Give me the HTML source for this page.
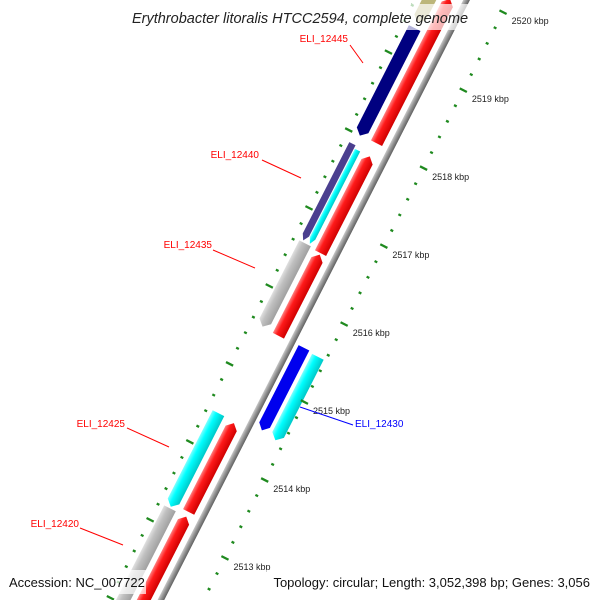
<!DOCTYPE html>
<html><head><meta charset="utf-8"><style>
html,body{margin:0;padding:0;background:#fff;overflow:hidden}
svg{display:block}
</style></head><body>
<svg id="map" width="600" height="600" viewBox="0 0 600 600" xmlns="http://www.w3.org/2000/svg">
<defs>
<linearGradient id="gRed" x1="0" y1="0" x2="0" y2="1"><stop offset="0" stop-color="#ff8080"/><stop offset="0.35" stop-color="#ff1a1a"/><stop offset="1" stop-color="#d00000"/></linearGradient>
<linearGradient id="gCyan" x1="0" y1="0" x2="0" y2="1"><stop offset="0" stop-color="#80ffff"/><stop offset="0.35" stop-color="#00ffff"/><stop offset="1" stop-color="#00c8c8"/></linearGradient>
<linearGradient id="gGray" x1="0" y1="0" x2="0" y2="1"><stop offset="0" stop-color="#e0e0e0"/><stop offset="0.35" stop-color="#c0c0c0"/><stop offset="1" stop-color="#a0a0a0"/></linearGradient>
<linearGradient id="gBack" x1="0" y1="0" x2="0" y2="1"><stop offset="0" stop-color="#c8c8c8"/><stop offset="0.5" stop-color="#909090"/><stop offset="1" stop-color="#606060"/></linearGradient>
</defs>
<g id="track" transform="translate(191.1,540.7) rotate(-63.0)"></g>
<g id="labels"></g>
<g id="annot"></g>
<rect x="114" y="4" width="372" height="26" fill="#fff" fill-opacity="0.7"/>
<text x="300" y="23" text-anchor="middle" font-family="Liberation Sans, sans-serif" font-size="14.5" font-style="italic" fill="#222">Erythrobacter litoralis HTCC2594, complete genome</text>
<rect x="4" y="570" width="142" height="24" fill="#fff" fill-opacity="0.7"/>
<text x="9" y="587" font-family="Liberation Sans, sans-serif" font-size="13" fill="#111">Accession: NC_007722</text>
<rect x="255" y="570" width="341" height="24" fill="#fff" fill-opacity="0.7"/>
<text x="590" y="587" text-anchor="end" font-family="Liberation Sans, sans-serif" font-size="13" fill="#111">Topology: circular; Length: 3,052,398 bp; Genes: 3,056</text>
</svg>
<script>
// data (kbp)
const geneStarts = [2511.0, 2513.28, 2515.54, 2516.6, 2518.01, 2520.05, 2511.0, 2513.24, 2515.55, 2516.64, 2516.64, 2518.0, 2519.45, 2514.49, 2514.46, 2520.1];
const geneEnds   = [2513.22, 2514.42, 2516.58, 2517.84, 2519.86, 2521.5, 2513.22, 2514.44, 2516.62, 2517.88, 2517.84, 2519.38, 2521.5, 2515.55, 2515.53, 2521.5];
const geneStrand = [1,1,1,1,1,1,-1,-1,-1,-1,-1,-1,-1,-1,-1,-1];
const geneLane   = ['fwd','fwd','fwd','fwd','fwd','fwd','rev','rev','rev','revA','revB','rev','rev','outA','outB','outA'];
const geneColor  = ['url(#gRed)','url(#gRed)','url(#gRed)','url(#gRed)','url(#gRed)','url(#gRed)','url(#gGray)','url(#gCyan)','url(#gGray)','#4b3f8f','url(#gCyan)','#000080','#bcb67a','#0000ee','url(#gCyan)','#0000ee'];
const tickStart = 2511.6, tickEnd = 2521.4, tickStep = 0.2;
const tickLabels = ['2512 kbp','2513 kbp','2514 kbp','2515 kbp','2516 kbp','2517 kbp','2518 kbp','2519 kbp','2520 kbp','2521 kbp'];
const tickLabelKbp = [2512,2513,2514,2515,2516,2517,2518,2519,2520,2521];
const annNames = ['ELI_12445','ELI_12440','ELI_12435','ELI_12425','ELI_12420','ELI_12430'];
const annTextX = [348, 259, 212, 125, 79, 355];
const annTextY = [42, 158, 248, 427, 527, 427];
const annLine  = [[350,45,363,63],[262,160,301,178],[213,250,255,268],[127,428,169,447],[80,528,123,545],[300,407,353,425]];
const annColor = ['#ff0000','#ff0000','#ff0000','#ff0000','#ff0000','#0000ff'];

const NS='http://www.w3.org/2000/svg';
const K=87.5, O=2513, ANG=63.0;
const ux=k=>(k-O)*K;
const lanes={fwd:[-21.5,-9],rev:[-40,-27],revA:[-40,-33],revB:[-32,-26],outA:[7,19],outB:[23,36]};
const cs=Math.cos(ANG*Math.PI/180), sn=Math.sin(ANG*Math.PI/180);
function scr(lx,ly){return [191.1+lx*cs+ly*sn, 540.7-lx*sn+ly*cs];}
const track=document.getElementById('track');
function mk(tag,attrs,parent){const e=document.createElementNS(NS,tag);for(const k in attrs)e.setAttribute(k,attrs[k]);parent.appendChild(e);return e;}

const bb=mk('rect',{x:-800,y:-3,width:1800,height:6,fill:'url(#gBack)'},track);



for(let i=0;i<geneStarts.length;i++){
  const [y0,y1]=lanes[geneLane[i]];
  const a=ux(geneStarts[i]), b=ux(geneEnds[i]), h=Math.min(6,(b-a)/2), m=(y0+y1)/2;
  let pts;
  if(geneStrand[i]>0) pts=`${a},${y0} ${b-h},${y0} ${b},${m} ${b-h},${y1} ${a},${y1}`;
  else pts=`${a+h},${y0} ${b},${y0} ${b},${y1} ${a+h},${y1} ${a},${m}`;
  const p=mk('polygon',{points:pts,fill:geneColor[i]},track);
  
  
}

const nT=Math.round((tickEnd-tickStart)/tickStep);
for(let j=0;j<=nT;j++){
  const k=tickStart+j*tickStep, major=Math.abs(k-Math.round(k))<1e-6, x=ux(k);
  const len=major?8:3;
  const t1=mk('line',{x1:x,x2:x,y1:38-len/2,y2:38+len/2,stroke:'#1f8a1f','stroke-width':2.3},track);
  
  
  const t2=mk('line',{x1:x,x2:x,y1:-46-len/2,y2:-46+len/2,stroke:'#1f8a1f','stroke-width':2.3},track);
  
  
}
const lg=document.getElementById('labels');
for(let j=0;j<tickLabels.length;j++){
  const [sx,sy]=scr(ux(tickLabelKbp[j]),42);
  const t=mk('text',{x:sx+5,y:sy+10,'font-family':'Liberation Sans, sans-serif','font-size':9,fill:'#222'},lg);
  t.textContent=tickLabels[j];
  
  
}

const ag=document.getElementById('annot');
for(let j=0;j<annNames.length;j++){
  const L=annLine[j], col=annColor[j], right=j===5;
  const l=mk('line',{x1:L[0],y1:L[1],x2:L[2],y2:L[3],stroke:col,'stroke-width':1},ag);
  
  
  const t=mk('text',{x:annTextX[j],y:annTextY[j],'text-anchor':right?'start':'end','font-family':'Liberation Sans, sans-serif','font-size':10,fill:col},ag);
  t.textContent=annNames[j];
  
  
}
</script>
</body></html>
